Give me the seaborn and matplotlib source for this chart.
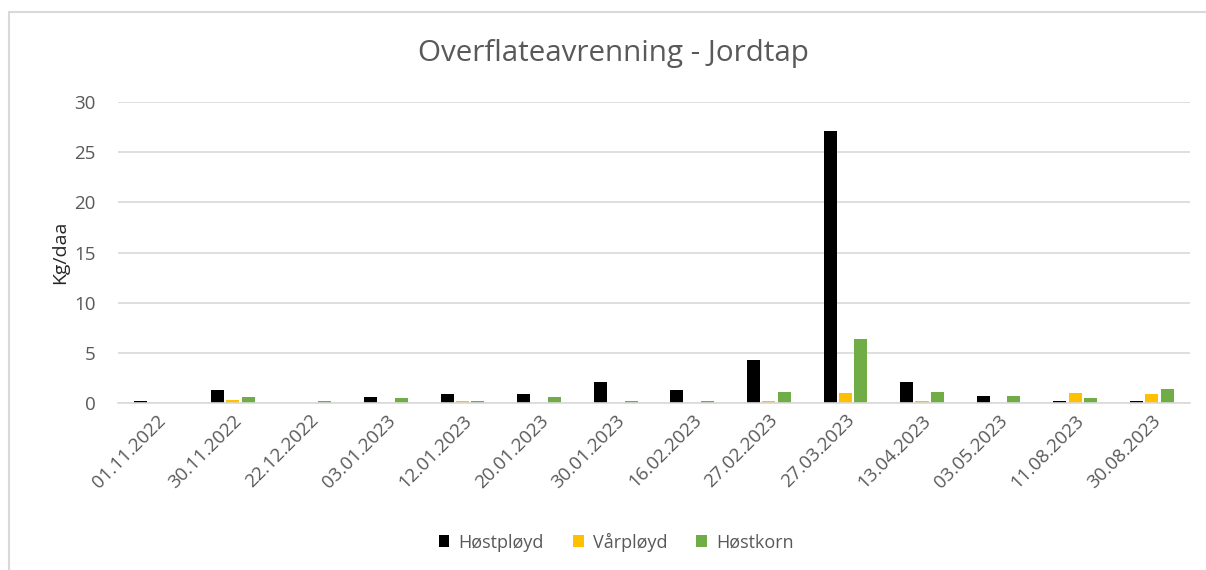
import matplotlib
matplotlib.use("Agg")
import matplotlib.pyplot as plt
import seaborn as sns
import pandas as pd
from matplotlib.patches import Rectangle

dates = ["01.11.2022", "30.11.2022", "22.12.2022", "03.01.2023", "12.01.2023",
         "20.01.2023", "30.01.2023", "16.02.2023", "27.02.2023", "27.03.2023",
         "13.04.2023", "03.05.2023", "11.08.2023", "30.08.2023"]
series_names = ["Høstpløyd", "Vårpløyd", "Høstkorn"]
hostployd = [0.15, 1.3, 0.0, 0.6, 0.88, 0.88, 2.1, 1.3, 4.25, 27.1, 2.1, 0.7, 0.23, 0.23]
varployd = [0.0, 0.27, 0.0, 0.0, 0.15, 0.0, 0.0, 0.0, 0.15, 0.95, 0.15, 0.0, 0.95, 0.85]
hostkorn = [0.0, 0.6, 0.15, 0.48, 0.15, 0.6, 0.15, 0.15, 1.05, 6.4, 1.05, 0.7, 0.48, 1.4]
colors = ["#000000", "#FFC000", "#70AD47"]

rows = []
for name, vals in zip(series_names, [hostployd, varployd, hostkorn]):
    for d, v in zip(dates, vals):
        rows.append({"Dato": d, "Serie": name, "Verdi": v})
df = pd.DataFrame(rows)

sns.set_theme(style="white")
plt.rcParams["font.family"] = ["Open Sans", "DejaVu Sans"]

fig = plt.figure(figsize=(12.06, 5.70), dpi=100)
ax = fig.add_axes([118 / 1206, 1 - 403 / 570, (1190 - 118) / 1206, (403 - 102) / 570])

sns.barplot(data=df, x="Dato", y="Verdi", hue="Serie", order=dates,
            hue_order=series_names, palette=colors, saturation=1,
            width=0.6, gap=0.15, linewidth=0, ax=ax, legend=True)

ax.set_ylim(0, 30)
ax.set_yticks([0, 5, 10, 15, 20, 25, 30])
ax.set_xlim(-0.5, len(dates) - 0.5)
ax.yaxis.grid(True, color="#D9D9D9", linewidth=1.2)
ax.set_axisbelow(True)
for s in ["top", "right", "left"]:
    ax.spines[s].set_visible(False)
ax.spines["bottom"].set_color("#D9D9D9")
ax.spines["bottom"].set_linewidth(1.2)
ax.tick_params(axis="both", length=0, colors="#595959", labelsize=13.5)
ax.tick_params(axis="y", pad=16)
ax.tick_params(axis="x", pad=6)
plt.setp(ax.get_xticklabels(), rotation=45, ha="right", rotation_mode="anchor")
ax.set_xlabel("")
ax.set_ylabel("Kg/daa", fontsize=14, color="#262626", labelpad=4)

fig.text(613 / 1206, 1 - 53 / 570, "Overflateavrenning - Jordtap",
         ha="center", va="center", fontsize=21.3, color="#595959")

leg = ax.legend(loc="center", bbox_to_anchor=(616 / 1206, 1 - 542 / 570),
                bbox_transform=fig.transFigure, ncol=3, frameon=False,
                fontsize=13, handlelength=0.6, handleheight=0.6,
                handletextpad=0.5, columnspacing=1.6)
for t in leg.get_texts():
    t.set_color("#595959")

fig.patches.append(Rectangle((9 / 1206, -0.1), 1.2, 1 - 12 / 570 + 0.1,
                             transform=fig.transFigure, fill=False,
                             edgecolor="#D9D9D9", linewidth=1.5))

fig.savefig("out.png", dpi=100, facecolor="white")
